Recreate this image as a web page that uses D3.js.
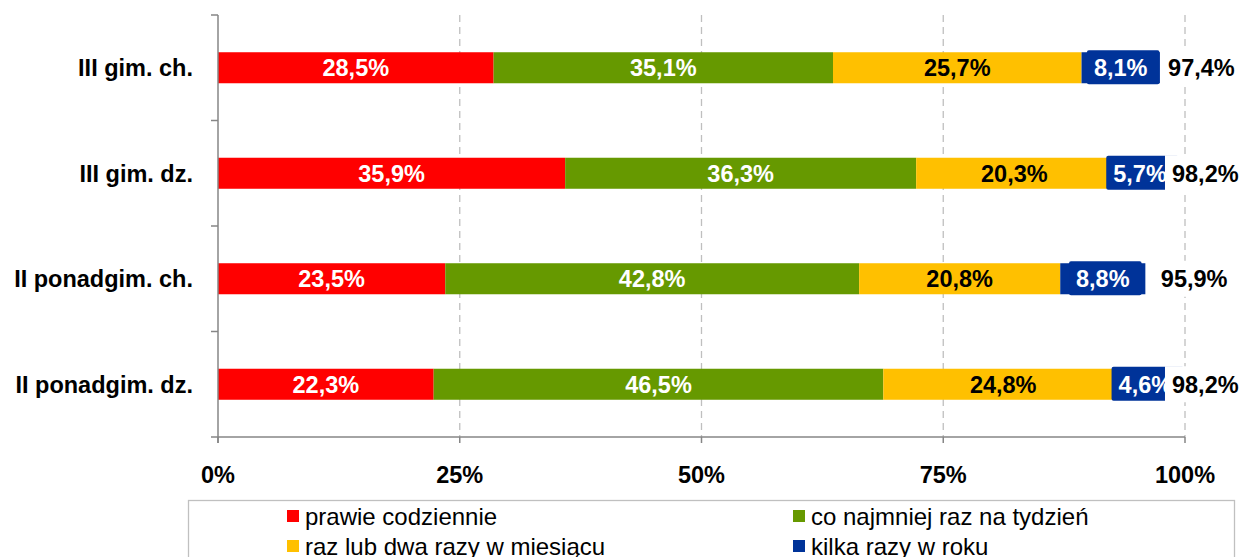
<!DOCTYPE html>
<html>
<head>
<meta charset="utf-8">
<script src="https://cdn.jsdelivr.net/npm/d3@7"></script>
<style>
  html, body { margin: 0; padding: 0; background: #fff; }
  svg { display: block; font-family: "Liberation Sans", Arial, sans-serif; }
</style>
</head>
<body>
<svg id="chart" width="1240" height="557"></svg>
<script>
// categories, top to bottom
var categories = ['III gim. ch.', 'III gim. dz.', 'II ponadgim. ch.', 'II ponadgim. dz.'];

// series (percent)
var seriesNames = ['prawie codziennie', 'co najmniej raz na tydzień', 'raz lub dwa razy w miesiącu', 'kilka razy w roku'];
var prawieCodziennie = [28.5, 35.9, 23.5, 22.3];
var coNajmniejRazNaTydzien = [35.1, 36.3, 42.8, 46.5];
var razLubDwaRazyWMiesiacu = [25.7, 20.3, 20.8, 24.8];
var kilkaRazyWRoku = [8.1, 5.7, 8.8, 4.6];
var totals = [97.4, 98.2, 95.9, 98.2];

var xTicks = [0, 25, 50, 75, 100];
var seriesColors = ['#ff0000', '#669900', '#ffc000', '#003399'];
var labelColors = ['#fff', '#fff', '#000', '#fff'];

var svg = d3.select('#chart');
var m_left = 218, m_right = 1185, m_top = 15, m_bottom = 437;
var boldSize = 23.5, legendSize = 24;

var x = d3.scaleLinear().domain([0, 100]).range([m_left, m_right]);
var y = d3.scaleBand().domain(categories).range([m_top, m_bottom])
  .paddingInner(0.706).paddingOuter(0.353);

var fmt = function (v) { return v.toFixed(1).replace('.', ',') + '%'; };

// build stacked rows from the named arrays
var allSeries = [prawieCodziennie, coNajmniejRazNaTydzien, razLubDwaRazyWMiesiacu, kilkaRazyWRoku];
var rows = categories.map(function (c, i) {
  var o = { cat: c };
  seriesNames.forEach(function (s, k) { o[s] = allSeries[k][i]; });
  return o;
});
var stacked = d3.stack().keys(seriesNames)(rows);

// dashed gridlines
svg.append('g').selectAll('line').data(xTicks.slice(1)).enter().append('line')
  .attr('x1', function (d) { return x(d); })
  .attr('x2', function (d) { return x(d); })
  .attr('y1', m_top).attr('y2', m_bottom)
  .attr('stroke', '#bfbfbf').attr('stroke-width', 1.3)
  .attr('stroke-dasharray', '7,5');

// bars
var layers = svg.append('g').selectAll('g').data(stacked).enter().append('g')
  .attr('fill', function (d, k) { return seriesColors[k]; });

layers.selectAll('rect').data(function (d) { return d; }).enter().append('rect')
  .attr('x', function (d) { return x(d[0]); })
  .attr('width', function (d) { return x(d[1]) - x(d[0]); })
  .attr('y', function (d) { return y(d.data.cat); })
  .attr('height', y.bandwidth());

// segment labels
stacked.forEach(function (layer, k) {
  var g = svg.append('g');
  layer.forEach(function (d) {
    var cx = (x(d[0]) + x(d[1])) / 2,
        cy = y(d.data.cat) + y.bandwidth() / 2;
    var t = g.append('text')
      .attr('x', cx).attr('y', cy)
      .attr('dy', '0.36em')
      .attr('text-anchor', 'middle')
      .attr('font-size', boldSize).attr('font-weight', 'bold')
      .attr('fill', labelColors[k])
      .text(fmt(d[1] - d[0]));
    if (k === 3) {
      // labels of the last series sit on their own blue box
      var w = t.node().getComputedTextLength();
      g.insert('rect', 'text')
        .attr('x', cx - w / 2 - 7).attr('width', w + 19)
        .attr('y', y(d.data.cat) - 2).attr('height', y.bandwidth() + 3)
        .attr('rx', 2)
        .attr('fill', seriesColors[3]);
    }
  });
});

// totals, on a white label box
var tg = svg.append('g');
totals.forEach(function (d, i) {
  var cy = y(categories[i]) + y.bandwidth() / 2;
  var t = tg.append('text')
    .attr('x', x((d + 106) / 2))
    .attr('y', cy)
    .attr('dy', '0.36em')
    .attr('text-anchor', 'middle')
    .attr('font-size', boldSize).attr('font-weight', 'bold')
    .text(fmt(d));
  var w = t.node().getComputedTextLength();
  tg.insert('rect', 'text')
    .attr('x', x((d + 106) / 2) - w / 2 - 7).attr('width', w + 12)
    .attr('y', cy - 18).attr('height', 36)
    .attr('fill', '#fff');
});

// axes
var axisColor = '#868686';
var ax = svg.append('g').attr('stroke', axisColor).attr('stroke-width', 1.5);
ax.append('line').attr('x1', m_left).attr('x2', m_left).attr('y1', m_top).attr('y2', m_bottom + 6);
ax.append('line').attr('x1', m_left - 7).attr('x2', m_right).attr('y1', m_bottom).attr('y2', m_bottom);
var yBounds = categories.map(function (c) { return y(c) - y.step() * y.paddingInner() / 2; });
ax.selectAll('line.yt').data(yBounds).enter().append('line')
  .attr('x1', m_left - 7).attr('x2', m_left)
  .attr('y1', function (d) { return d; }).attr('y2', function (d) { return d; });
ax.selectAll('line.xt').data(xTicks).enter().append('line')
  .attr('x1', function (d) { return x(d); }).attr('x2', function (d) { return x(d); })
  .attr('y1', m_bottom).attr('y2', m_bottom + 6);

// tick labels
svg.append('g').selectAll('text').data(xTicks).enter().append('text')
  .attr('x', function (d) { return x(d); })
  .attr('y', 483)
  .attr('text-anchor', 'middle')
  .attr('font-size', boldSize).attr('font-weight', 'bold')
  .text(function (d) { return d + '%'; });

svg.append('g').selectAll('text').data(categories).enter().append('text')
  .attr('x', 193)
  .attr('y', function (d) { return y(d) + y.bandwidth() / 2; })
  .attr('dy', '0.36em')
  .attr('text-anchor', 'end')
  .attr('font-size', boldSize).attr('font-weight', 'bold')
  .text(function (d) { return d; });

// legend
var legend = svg.append('g');
legend.append('rect')
  .attr('x', 188.5).attr('y', 500.5).attr('width', 1046).attr('height', 70)
  .attr('fill', 'none').attr('stroke', '#c0c0c0').attr('stroke-width', 1.3);
var legendPos = [[287, 516], [793, 516], [287, 546], [793, 546]];
seriesNames.forEach(function (s, k) {
  var p = legendPos[k];
  legend.append('rect')
    .attr('x', p[0]).attr('y', p[1] - 6).attr('width', 12).attr('height', 12)
    .attr('fill', seriesColors[k]);
  legend.append('text')
    .attr('x', p[0] + 18).attr('y', p[1])
    .attr('dy', '0.36em')
    .attr('font-size', legendSize)
    .text(s);
});
</script>
</body>
</html>
